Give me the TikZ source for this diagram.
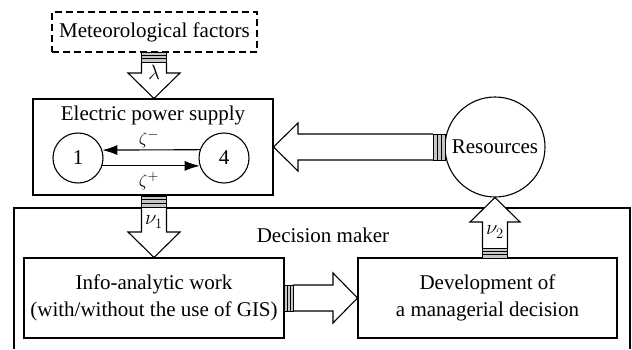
\documentclass[tikz,border=0pt]{standalone}
\usepackage{fontspec}
\setmainfont{Liberation Serif}
\usetikzlibrary{arrows.meta,calc}
\begin{document}
\begin{tikzpicture}[x=1pt,y=-1pt, line width=1.1pt,
  every node/.style={font=\fontsize{21}{27}\selectfont, inner sep=0pt},
  box/.style={draw, rectangle, align=center},
  ring/.style={draw, circle},
  blk/.style={draw, fill=white, line join=miter},
  band/.style={draw, fill=gray!45, line width=0.8pt},
  stripe/.style={line width=0.8pt},
  tip/.style={-{Latex[length=15pt,width=10pt]}},
  lbl/.style={font=\fontsize{19}{22}\selectfont}
]
\useasboundingbox (0,0) rectangle (632,349);

% decision maker frame (open at bottom)
\coordinate (dmbl) at (14,349);
\coordinate (dmtl) at (14,208);
\coordinate (dmtr) at (630,208);
\coordinate (dmbr) at (630,349);
\draw (dmbl) -- (dmtl) -- (dmtr) -- (dmbr);
\node (dmt) at (323,235) {Decision maker};

% nodes
\node[box, dashed, dash pattern=on 7pt off 4pt, minimum width=205pt, minimum height=40pt] (met) at (154.5,32) {Meteorological factors};
\node[box, minimum width=240pt, minimum height=96pt] (eps) at (153,147) {};
\node (epst) at (153,115) {Electric power supply};
\node[ring, minimum size=50pt] (c1) at (78,158) {1};
\node[ring, minimum size=50pt] (c4) at (224,158) {4};
\node[ring, minimum size=100pt] (res) at (495,147) {Resources};
\node[box, minimum width=260pt, minimum height=80pt] (info) at (154,298) {Info-analytic work\\(with/without the use of GIS)};
\node[box, minimum width=259pt, minimum height=80pt] (dev) at (487.5,298) {Development of\\a managerial decision};

% small arrows between states
\draw[tip] (c4.161.3) -- (c1.18.7);
\draw[tip] (c1.-18.7) -- (c4.198.7);
\node[lbl] (zm) at (149,139) {$\zeta^-$};
\node[lbl] (zp) at (149,181) {$\zeta^+$};

% lambda arrow (down)
\draw[blk] (141.5,62) -- (141.5,73) -- (128,73) -- (154,98.5) -- (180,73) -- (166.5,73) -- (166.5,62);
\draw[band] (141.5,52) rectangle (166.5,62);
\draw[stripe] (141.5,55.3) -- (166.5,55.3) (141.5,58.6) -- (166.5,58.6);
\node (lam) at (154,72) {$\lambda$};

% nu1 arrow (down)
\draw[blk] (141.5,207) -- (141.5,232) -- (128,232) -- (154,257.5) -- (180,232) -- (166.5,232) -- (166.5,207);
\draw[band] (141.5,196) rectangle (166.5,207);
\draw[stripe] (141.5,199.6) -- (166.5,199.6) (141.5,203.3) -- (166.5,203.3);
\node (nu1) at (154,222) {$\nu_1$};

% nu2 arrow (up)
\draw[blk] (482.5,248) -- (482.5,222) -- (470,222) -- (495,197.5) -- (520,222) -- (507.5,222) -- (507.5,248);
\draw[band] (482.5,248) rectangle (507.5,258);
\draw[stripe] (482.5,251.3) -- (507.5,251.3) (482.5,254.6) -- (507.5,254.6);
\node (nu2) at (495,232) {$\nu_2$};

% info -> dev arrow
\draw[blk] (293,285) -- (333,285) -- (333,273) -- (357.5,298) -- (333,323) -- (333,311) -- (293,311);
\draw[band] (284,285) rectangle (293,311);
\draw[stripe] (287,285) -- (287,311) (290,285) -- (290,311);

% resources -> eps arrow
\draw[blk] (433,134) -- (298,134) -- (298,123) -- (273.5,147) -- (298,171) -- (298,160) -- (433,160);
\draw[band] (433,134) rectangle (445,160);
\draw[stripe] (437,134) -- (437,160) (441,134) -- (441,160);
\end{tikzpicture}
\end{document}
